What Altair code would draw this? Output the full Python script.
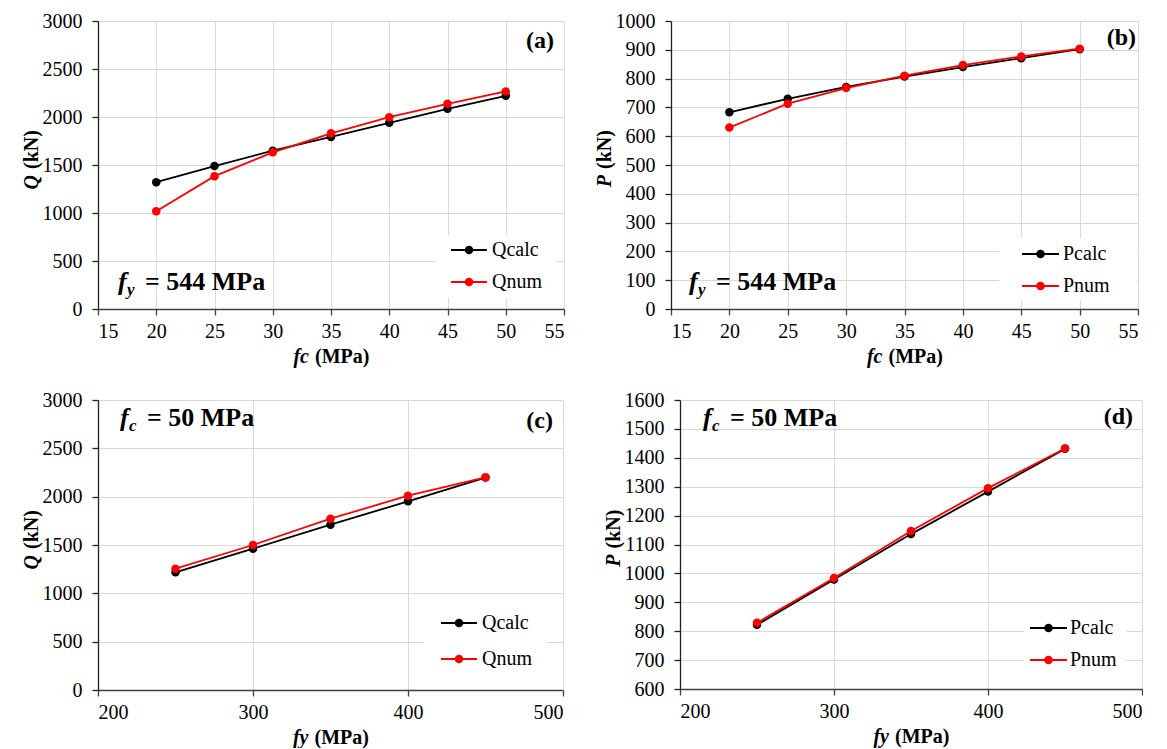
import altair as alt
import pandas as pd

# ---------------- data ----------------
fc_values = [20, 25, 30, 35, 40, 45, 50]
q_calc_a = [1321, 1489, 1649, 1792, 1939, 2085, 2221]
q_num_a = [1018, 1384, 1632, 1830, 1998, 2137, 2266]
p_calc_b = [683, 730, 771, 807, 840, 871, 902]
p_num_b = [630, 713, 767, 810, 847, 877, 904]

fy_values = [250, 300, 350, 400, 450]
q_calc_c = [1217, 1462, 1710, 1952, 2197]
q_num_c = [1255, 1500, 1772, 2010, 2200]
p_calc_d = [822, 979, 1136, 1283, 1431]
p_num_d = [829, 984, 1147, 1295, 1432]

x_ticks_fc = [15, 20, 25, 30, 35, 40, 45, 50, 55]
x_ticks_fy = [200, 300, 400, 500]
y_ticks_q = [0, 500, 1000, 1500, 2000, 2500, 3000]
y_ticks_p_b = [0, 100, 200, 300, 400, 500, 600, 700, 800, 900, 1000]
y_ticks_p_d = [600, 700, 800, 900, 1000, 1100, 1200, 1300, 1400, 1500, 1600]

FONT = "Liberation Serif"
BLACK = "#000000"
RED = "#ff0000"


def txt(s, x, y, size, bold=True, italic=False, align="left", angle=0, baseline="alphabetic"):
    props = dict(font=FONT, fontSize=size, fontWeight="bold" if bold else "normal",
                 fontStyle="italic" if italic else "normal", align=align,
                 baseline=baseline, color="black")
    if angle:
        props["angle"] = angle
    return alt.Chart(pd.DataFrame({"t": [s]})).mark_text(**props).encode(
        text="t:N", x=alt.value(x), y=alt.value(y))


def panel(xs, calc, num, names, xdom, xvals, ydom, yvals, w, h,
          ylet, xsub, asub, aval, ann, tag, tagpos, leg):
    df = pd.DataFrame({"x": xs * 2, "v": calc + num,
                       "s": [names[0]] * len(xs) + [names[1]] * len(xs)})
    common = dict(title=None, format="d", grid=True, labelFont=FONT, labelFontSize=20,
                  labelColor="black", labelFontWeight="normal")
    xenc = alt.X("x:Q", scale=alt.Scale(domain=xdom, nice=False, zero=False),
                 axis=alt.Axis(values=xvals, domainColor="#404040", tickColor="#404040",
                               labelPadding=6, **common))
    yenc = alt.Y("v:Q", scale=alt.Scale(domain=ydom, nice=False, zero=False),
                 axis=alt.Axis(values=yvals, domainColor="#202020", tickColor="#202020",
                               labelPadding=10, **common))
    base = alt.Chart(df).encode(x=xenc, y=yenc)
    layers = []
    for name, col in zip(names, [BLACK, RED]):
        f = base.transform_filter(alt.datum.s == name)
        layers.append(f.mark_line(color=col, strokeWidth=1.8))
        layers.append(f.mark_point(color=col, filled=True, opacity=1, size=72))

    # legend (white box, line + dot samples, labels)
    lx0, ly0, lx1, ly1, sx0, sx1, sy0, sy1, tx = leg
    layers.append(alt.Chart(pd.DataFrame({"k": [0]})).mark_rect(color="white").encode(
        x=alt.value(lx0), x2=alt.value(lx1), y=alt.value(ly0), y2=alt.value(ly1)))
    for name, col, sy in zip(names, [BLACK, RED], [sy0, sy1]):
        layers.append(alt.Chart(pd.DataFrame({"k": [0]})).mark_rule(color=col, strokeWidth=1.8).encode(
            x=alt.value(sx0), x2=alt.value(sx1), y=alt.value(sy)))
        layers.append(alt.Chart(pd.DataFrame({"k": [0]})).mark_point(color=col, filled=True, opacity=1, size=72).encode(
            x=alt.value((sx0 + sx1) / 2), y=alt.value(sy)))
        layers.append(txt(name, tx, sy, 20, bold=False, baseline="middle"))

    # annotation f_sub = value
    ax, ay = ann
    layers.append(txt("f", ax, ay, 26, italic=True))
    layers.append(txt(asub, ax + 9, ay + 5, 17, italic=True))
    layers.append(txt("= " + aval, ax + 27, ay, 26))

    # panel tag
    layers.append(txt(tag, tagpos[0], tagpos[1], 24, align="right"))

    # axis titles (mixed italic/bold)
    jx = w / 2 - 22
    layers.append(txt("f" + xsub, jx, h + 54, 20, italic=True, align="right"))
    layers.append(txt("(MPa)", jx + 6, h + 54, 20, align="left"))
    jy = h / 2 + 10
    layers.append(txt(ylet, -60, jy, 20, italic=True, align="right", angle=270))
    layers.append(txt("(kN)", -60, jy - 6, 20, align="left", angle=270))

    return alt.layer(*layers).properties(width=w, height=h)


a = panel(fc_values, q_calc_a, q_num_a, ["Qcalc", "Qnum"], [15, 55], x_ticks_fc,
          [0, 3000], y_ticks_q, 466, 288, "Q", "c", "y", "544 MPa", (20, 269),
          "(a)", (456, 27), (338, 214, 458, 277, 353, 389, 229, 261, 394))
b = panel(fc_values, p_calc_b, p_num_b, ["Pcalc", "Pnum"], [15, 55], x_ticks_fc,
          [0, 1000], y_ticks_p_b, 467, 288, "P", "c", "y", "544 MPa", (18, 269),
          "(b)", (465, 24), (328, 217, 466, 279, 351, 388, 233, 265, 392))
c = panel(fy_values, q_calc_c, q_num_c, ["Qcalc", "Qnum"], [200, 500], x_ticks_fy,
          [0, 3000], y_ticks_q, 465, 290, "Q", "y", "c", "50 MPa", (22, 26),
          "(c)", (455, 28), (326, 200, 448, 282, 343, 379, 223, 259, 384))
d = panel(fy_values, p_calc_d, p_num_d, ["Pcalc", "Pnum"], [200, 500], x_ticks_fy,
          [600, 1600], y_ticks_p_d, 462, 289, "P", "y", "c", "50 MPa", (23, 26),
          "(d)", (453, 24), (344, 212, 446, 282, 350, 387, 228, 260, 390))

row1 = alt.hconcat(a, b, spacing=30)
row2 = alt.hconcat(c, d, spacing=40)
chart = alt.vconcat(row1, row2, spacing=23).properties(
    padding={"left": 14, "top": 3, "right": 0, "bottom": 0}
).configure_view(stroke=None).configure_axis(
    labelFont=FONT, labelFontSize=20, labelColor="black",
    gridColor="#d9d9d9", gridWidth=1, tickSize=6,
    domainWidth=1.3, tickWidth=1.3,
)

chart.save("out.html", embed_options={"renderer": "svg", "actions": False})
